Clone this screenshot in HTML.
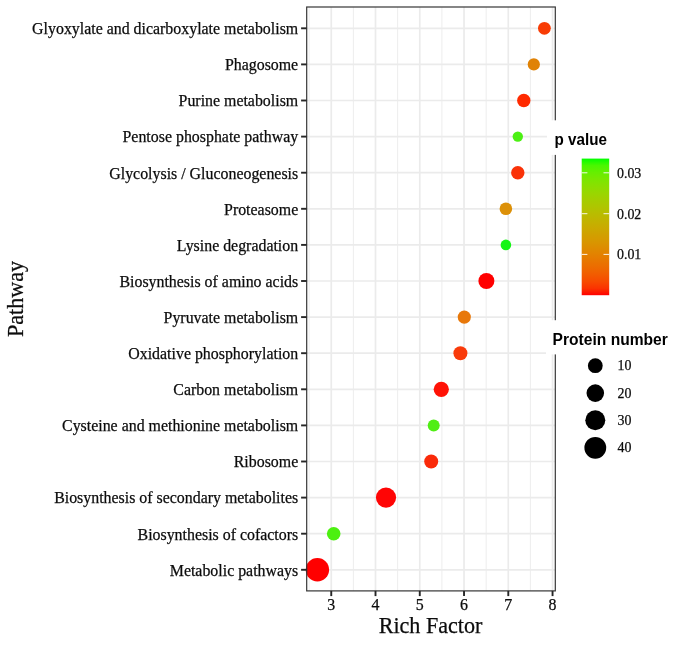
<!DOCTYPE html>
<html lang="en"><head><meta charset="utf-8"><title>KEGG pathway enrichment</title>
<style>html,body{margin:0;padding:0;background:#fff}body{width:685px;height:646px;overflow:hidden}svg{display:block;filter:blur(0.5px)}text{font-family:"Liberation Serif","Times New Roman",serif;fill:#0c0c0c;stroke:#0c0c0c;stroke-width:0.25px}.s{font-family:"Liberation Sans",Arial,sans-serif;font-weight:bold;fill:#000;stroke:none}</style></head><body>
<svg width="685" height="646" viewBox="0 0 685 646">
<rect width="685" height="646" fill="#fff"/>
<defs><linearGradient id="g" x1="0" y1="1" x2="0" y2="0">
<stop offset="0" stop-color="#ff0000"/>
<stop offset="0.05" stop-color="#fb3300"/>
<stop offset="0.1" stop-color="#f74a00"/>
<stop offset="0.15" stop-color="#f25b00"/>
<stop offset="0.2" stop-color="#ed6a00"/>
<stop offset="0.25" stop-color="#e87600"/>
<stop offset="0.3" stop-color="#e38200"/>
<stop offset="0.35" stop-color="#dd8d00"/>
<stop offset="0.4" stop-color="#d79800"/>
<stop offset="0.45" stop-color="#d0a100"/>
<stop offset="0.5" stop-color="#c9ab00"/>
<stop offset="0.55" stop-color="#c1b400"/>
<stop offset="0.6" stop-color="#b8bd00"/>
<stop offset="0.65" stop-color="#aec600"/>
<stop offset="0.7" stop-color="#a4ce00"/>
<stop offset="0.75" stop-color="#98d700"/>
<stop offset="0.8" stop-color="#8adf00"/>
<stop offset="0.85" stop-color="#7ae700"/>
<stop offset="0.9" stop-color="#65ef00"/>
<stop offset="0.95" stop-color="#49f700"/>
<stop offset="1" stop-color="#00ff00"/>
</linearGradient></defs>
<g stroke="#ebebeb" fill="none">
<line x1="309.12" x2="309.12" y1="7.00" y2="590.90" stroke-width="0.9"/>
<line x1="353.38" x2="353.38" y1="7.00" y2="590.90" stroke-width="0.9"/>
<line x1="397.64" x2="397.64" y1="7.00" y2="590.90" stroke-width="0.9"/>
<line x1="441.90" x2="441.90" y1="7.00" y2="590.90" stroke-width="0.9"/>
<line x1="486.16" x2="486.16" y1="7.00" y2="590.90" stroke-width="0.9"/>
<line x1="530.42" x2="530.42" y1="7.00" y2="590.90" stroke-width="0.9"/>
<line x1="331.25" x2="331.25" y1="7.00" y2="590.90" stroke-width="1.7"/>
<line x1="375.51" x2="375.51" y1="7.00" y2="590.90" stroke-width="1.7"/>
<line x1="419.77" x2="419.77" y1="7.00" y2="590.90" stroke-width="1.7"/>
<line x1="464.03" x2="464.03" y1="7.00" y2="590.90" stroke-width="1.7"/>
<line x1="508.29" x2="508.29" y1="7.00" y2="590.90" stroke-width="1.7"/>
<line x1="552.55" x2="552.55" y1="7.00" y2="590.90" stroke-width="1.7"/>
<line x1="306.70" x2="555.30" y1="28.30" y2="28.30" stroke-width="1.7"/>
<line x1="306.70" x2="555.30" y1="64.40" y2="64.40" stroke-width="1.7"/>
<line x1="306.70" x2="555.30" y1="100.50" y2="100.50" stroke-width="1.7"/>
<line x1="306.70" x2="555.30" y1="136.60" y2="136.60" stroke-width="1.7"/>
<line x1="306.70" x2="555.30" y1="172.70" y2="172.70" stroke-width="1.7"/>
<line x1="306.70" x2="555.30" y1="208.80" y2="208.80" stroke-width="1.7"/>
<line x1="306.70" x2="555.30" y1="244.90" y2="244.90" stroke-width="1.7"/>
<line x1="306.70" x2="555.30" y1="281.00" y2="281.00" stroke-width="1.7"/>
<line x1="306.70" x2="555.30" y1="317.10" y2="317.10" stroke-width="1.7"/>
<line x1="306.70" x2="555.30" y1="353.20" y2="353.20" stroke-width="1.7"/>
<line x1="306.70" x2="555.30" y1="389.30" y2="389.30" stroke-width="1.7"/>
<line x1="306.70" x2="555.30" y1="425.40" y2="425.40" stroke-width="1.7"/>
<line x1="306.70" x2="555.30" y1="461.50" y2="461.50" stroke-width="1.7"/>
<line x1="306.70" x2="555.30" y1="497.60" y2="497.60" stroke-width="1.7"/>
<line x1="306.70" x2="555.30" y1="533.70" y2="533.70" stroke-width="1.7"/>
<line x1="306.70" x2="555.30" y1="569.80" y2="569.80" stroke-width="1.7"/>
</g>
<circle cx="544.4" cy="28.30" r="6.4" fill="#f83c05"/>
<circle cx="533.8" cy="64.40" r="6.1" fill="#e08205"/>
<circle cx="523.8" cy="100.50" r="6.7" fill="#ff2a00"/>
<circle cx="517.8" cy="136.60" r="5.2" fill="#4cf014"/>
<circle cx="517.8" cy="172.70" r="6.7" fill="#fa3208"/>
<circle cx="505.9" cy="208.80" r="6.3" fill="#dc9008"/>
<circle cx="505.9" cy="244.90" r="5.3" fill="#14f514"/>
<circle cx="486.4" cy="281.00" r="8.0" fill="#ff0000"/>
<circle cx="464.3" cy="317.10" r="6.6" fill="#e8780a"/>
<circle cx="460.4" cy="353.20" r="7.0" fill="#f93a0a"/>
<circle cx="441.3" cy="389.30" r="7.6" fill="#ff1206"/>
<circle cx="433.7" cy="425.40" r="6.0" fill="#50ee14"/>
<circle cx="431.2" cy="461.50" r="7.0" fill="#fa2a0a"/>
<circle cx="386.0" cy="497.60" r="10.1" fill="#ff0505"/>
<circle cx="333.7" cy="533.70" r="6.8" fill="#4cf010"/>
<circle cx="317.4" cy="569.80" r="11.7" fill="#ff0000"/>
<rect x="306.70" y="7.00" width="248.60" height="583.90" fill="none" stroke="#363636" stroke-width="1.2"/>
<g stroke="#262626" stroke-width="1.9">
<line x1="301.10" x2="306.70" y1="28.30" y2="28.30"/>
<line x1="301.10" x2="306.70" y1="64.40" y2="64.40"/>
<line x1="301.10" x2="306.70" y1="100.50" y2="100.50"/>
<line x1="301.10" x2="306.70" y1="136.60" y2="136.60"/>
<line x1="301.10" x2="306.70" y1="172.70" y2="172.70"/>
<line x1="301.10" x2="306.70" y1="208.80" y2="208.80"/>
<line x1="301.10" x2="306.70" y1="244.90" y2="244.90"/>
<line x1="301.10" x2="306.70" y1="281.00" y2="281.00"/>
<line x1="301.10" x2="306.70" y1="317.10" y2="317.10"/>
<line x1="301.10" x2="306.70" y1="353.20" y2="353.20"/>
<line x1="301.10" x2="306.70" y1="389.30" y2="389.30"/>
<line x1="301.10" x2="306.70" y1="425.40" y2="425.40"/>
<line x1="301.10" x2="306.70" y1="461.50" y2="461.50"/>
<line x1="301.10" x2="306.70" y1="497.60" y2="497.60"/>
<line x1="301.10" x2="306.70" y1="533.70" y2="533.70"/>
<line x1="301.10" x2="306.70" y1="569.80" y2="569.80"/>
<line x1="331.25" x2="331.25" y1="590.90" y2="596.10"/>
<line x1="375.51" x2="375.51" y1="590.90" y2="596.10"/>
<line x1="419.77" x2="419.77" y1="590.90" y2="596.10"/>
<line x1="464.03" x2="464.03" y1="590.90" y2="596.10"/>
<line x1="508.29" x2="508.29" y1="590.90" y2="596.10"/>
<line x1="552.55" x2="552.55" y1="590.90" y2="596.10"/>
</g>
<g font-size="15.9" text-anchor="end">
<text x="298.2" y="34.10">Glyoxylate and dicarboxylate metabolism</text>
<text x="298.2" y="70.20">Phagosome</text>
<text x="298.2" y="106.30">Purine metabolism</text>
<text x="298.2" y="142.40">Pentose phosphate pathway</text>
<text x="298.2" y="178.50">Glycolysis / Gluconeogenesis</text>
<text x="298.2" y="214.60">Proteasome</text>
<text x="298.2" y="250.70">Lysine degradation</text>
<text x="298.2" y="286.80">Biosynthesis of amino acids</text>
<text x="298.2" y="322.90">Pyruvate metabolism</text>
<text x="298.2" y="359.00">Oxidative phosphorylation</text>
<text x="298.2" y="395.10">Carbon metabolism</text>
<text x="298.2" y="431.20">Cysteine and methionine metabolism</text>
<text x="298.2" y="467.30">Ribosome</text>
<text x="298.2" y="503.40">Biosynthesis of secondary metabolites</text>
<text x="298.2" y="539.50">Biosynthesis of cofactors</text>
<text x="298.2" y="575.60">Metabolic pathways</text>
</g>
<g font-size="15.9" text-anchor="middle">
<text x="331.25" y="610.2">3</text>
<text x="375.51" y="610.2">4</text>
<text x="419.77" y="610.2">5</text>
<text x="464.03" y="610.2">6</text>
<text x="508.29" y="610.2">7</text>
<text x="552.55" y="610.2">8</text>
</g>
<text x="430.5" y="632.6" font-size="22.1" text-anchor="middle">Rich Factor</text>
<text transform="translate(23.3 299) rotate(-90)" font-size="22.1" text-anchor="middle">Pathway</text>
<rect x="547" y="120.3" width="70" height="34.6" fill="#fff"/>
<rect x="546" y="320.2" width="130" height="34.2" fill="#fff"/>
<text class="s" transform="translate(554.6 145.3) scale(0.915 1)" font-size="16.6">p value</text>
<text class="s" transform="translate(552.6 344.8) scale(0.94 1)" font-size="16.6">Protein number</text>
<rect x="581.7" y="158.6" width="27.5" height="136.6" fill="url(#g)"/>
<g stroke="#fff" stroke-width="0.9">
<line x1="581.7" x2="587.4" y1="172.8" y2="172.8"/><line x1="603.5" x2="609.2" y1="172.8" y2="172.8"/>
<line x1="581.7" x2="587.4" y1="213.7" y2="213.7"/><line x1="603.5" x2="609.2" y1="213.7" y2="213.7"/>
<line x1="581.7" x2="587.4" y1="254.4" y2="254.4"/><line x1="603.5" x2="609.2" y1="254.4" y2="254.4"/>
</g>
<g font-size="13.9" style="stroke:none;fill:#161616">
<text x="617" y="177.7">0.03</text>
<text x="617" y="218.6">0.02</text>
<text x="617" y="259.3">0.01</text>
<circle cx="595.3" cy="365.7" r="7.4" fill="#000"/><text x="617.5" y="370.3">10</text>
<circle cx="595.3" cy="393.1" r="8.8" fill="#000"/><text x="617.5" y="397.7">20</text>
<circle cx="595.3" cy="420.3" r="10.0" fill="#000"/><text x="617.5" y="424.9">30</text>
<circle cx="595.3" cy="447.8" r="10.9" fill="#000"/><text x="617.5" y="452.4">40</text>
</g>
</svg></body></html>
